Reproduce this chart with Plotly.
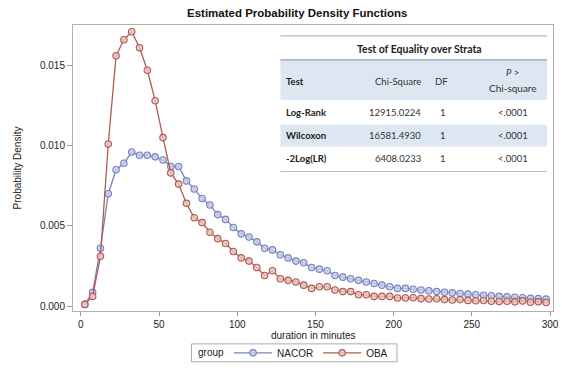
import plotly.graph_objects as go

# ---------------- data ----------------
minutes = [2.5 + 5 * i for i in range(60)]

nacor = [0.0001, 0.00085, 0.0036, 0.0070, 0.0085, 0.0089, 0.0096, 0.0094, 0.0094, 0.0093,
         0.0091, 0.0087, 0.0087, 0.0078, 0.0073, 0.0067, 0.0063, 0.0057, 0.0054, 0.0049,
         0.0045, 0.0043, 0.0040, 0.0036, 0.0035, 0.0032, 0.0030, 0.0028, 0.0027, 0.0024,
         0.0023, 0.0022, 0.0019, 0.0018, 0.0017, 0.0016, 0.0015, 0.0014, 0.0013, 0.0012,
         0.0011, 0.00110, 0.00105, 0.00100, 0.00095, 0.00090, 0.00086, 0.00082, 0.00078, 0.00074,
         0.00070, 0.00067, 0.00064, 0.00060, 0.00057, 0.00055, 0.00052, 0.00048, 0.00046, 0.00043]

oba = [0.0001, 0.0006, 0.0031, 0.0101, 0.0156, 0.0166, 0.0171, 0.0161, 0.0147, 0.0128,
       0.0105, 0.0083, 0.0076, 0.0064, 0.0055, 0.0052, 0.0046, 0.0042, 0.0039, 0.0034,
       0.0030, 0.0028, 0.0024, 0.0019, 0.0022, 0.0017, 0.0016, 0.0015, 0.0013, 0.0011,
       0.0012, 0.0012, 0.0010, 0.0009, 0.0009, 0.0007, 0.0007, 0.0006, 0.0006, 0.0006,
       0.0005, 0.00050, 0.00052, 0.00046, 0.00044, 0.00045, 0.00040, 0.00038, 0.00040, 0.00035,
       0.00033, 0.00034, 0.00030, 0.00028, 0.00030, 0.00026, 0.00032, 0.00024, 0.00026, 0.00022]

x_ticks = [0, 50, 100, 150, 200, 250, 300]
y_ticks = [0.0, 0.005, 0.010, 0.015]
y_tick_labels = ["0.000", "0.005", "0.010", "0.015"]

table_title = "Test of Equality over Strata"
tests = ["Log-Rank", "Wilcoxon", "-2Log(LR)"]
chi_square = ["12915.0224", "16581.4930", "6408.0233"]
dfs = ["1", "1", "1"]
pvals = ["<.0001", "<.0001", "<.0001"]

# ---------------- layout geometry (pixels) ----------------
W, H = 562, 370
L, R, T, B = 73, 559, 25, 312


def px(x):
    return (x - L) / (R - L)


def py(y):
    return (B - y) / (B - T)


blue = "#7682bf"
red = "#b25a51"

fig = go.Figure()
fig.add_trace(go.Scatter(
    x=minutes, y=nacor, name="NACOR", mode="lines+markers",
    line=dict(color=blue, width=1.3),
    marker=dict(symbol="circle", size=6.5, color="rgba(200,205,230,0.85)",
                line=dict(color=blue, width=1.1)),
))
fig.add_trace(go.Scatter(
    x=minutes, y=oba, name="OBA", mode="lines+markers",
    line=dict(color=red, width=1.3),
    marker=dict(symbol="circle", size=6.5, color="rgba(228,196,190,0.85)",
                line=dict(color=red, width=1.1)),
))

shapes = []
annotations = []

# table backgrounds
shapes.append(dict(type="rect", xref="paper", yref="paper", x0=px(283), x1=px(553),
                   y0=py(100), y1=py(60), fillcolor="#dce7f1", line=dict(width=0), layer="above"))
shapes.append(dict(type="rect", xref="paper", yref="paper", x0=px(283), x1=px(553),
                   y0=py(147), y1=py(125), fillcolor="#dce7f1", line=dict(width=0), layer="above"))
# table rules
for yy, col, w in [(36, "#a9bccd", 1.2), (60, "#8aa2b8", 1.2), (172, "#b5c3d0", 1.2)]:
    shapes.append(dict(type="line", xref="paper", yref="paper", x0=px(283), x1=px(553),
                       y0=py(yy), y1=py(yy), line=dict(color=col, width=w), layer="above"))

# legend frame
shapes.append(dict(type="rect", xref="paper", yref="paper", x0=px(193), x1=px(401),
                   y0=py(363), y1=py(345), line=dict(color="#aaa", width=1),
                   fillcolor="rgba(0,0,0,0)"))
annotations.append(dict(text="group", xref="paper", yref="paper", x=px(198), y=py(354),
                        showarrow=False, xanchor="left", yanchor="middle",
                        font=dict(family="Liberation Sans", size=10, color="#222")))

tfont = "Lato"
annotations.append(dict(text="<b>" + table_title + "</b>", xref="paper", yref="paper",
                        x=px(424), y=py(49), showarrow=False, xanchor="center", yanchor="middle",
                        font=dict(family=tfont, size=10.5, color="#222")))
annotations.append(dict(text="<b>Test</b>", xref="paper", yref="paper", x=px(287), y=py(82),
                        showarrow=False, xanchor="left", yanchor="middle",
                        font=dict(family=tfont, size=9.5, color="#222")))
annotations.append(dict(text="Chi-Square", xref="paper", yref="paper", x=px(427), y=py(82),
                        showarrow=False, xanchor="right", yanchor="middle",
                        font=dict(family=tfont, size=9.5, color="#333")))
annotations.append(dict(text="DF", xref="paper", yref="paper", x=px(446), y=py(82),
                        showarrow=False, xanchor="center", yanchor="middle",
                        font=dict(family=tfont, size=9.5, color="#333")))
annotations.append(dict(text="<i>P</i> >", xref="paper", yref="paper", x=px(518), y=py(73),
                        showarrow=False, xanchor="center", yanchor="middle",
                        font=dict(family=tfont, size=9.5, color="#333")))
annotations.append(dict(text="Chi-square", xref="paper", yref="paper", x=px(518), y=py(88),
                        showarrow=False, xanchor="center", yanchor="middle",
                        font=dict(family=tfont, size=10, color="#333")))
row_y = [113, 136, 159]
for i, ry in enumerate(row_y):
    annotations.append(dict(text="<b>" + tests[i] + "</b>", xref="paper", yref="paper",
                            x=px(287), y=py(ry), showarrow=False, xanchor="left", yanchor="middle",
                            font=dict(family=tfont, size=9.5, color="#222")))
    annotations.append(dict(text=chi_square[i], xref="paper", yref="paper",
                            x=px(427), y=py(ry), showarrow=False, xanchor="right", yanchor="middle",
                            font=dict(family=tfont, size=9.5, color="#333")))
    annotations.append(dict(text=dfs[i], xref="paper", yref="paper",
                            x=px(448), y=py(ry), showarrow=False, xanchor="center", yanchor="middle",
                            font=dict(family=tfont, size=9.5, color="#333")))
    annotations.append(dict(text=pvals[i], xref="paper", yref="paper",
                            x=px(518), y=py(ry), showarrow=False, xanchor="center", yanchor="middle",
                            font=dict(family=tfont, size=9.5, color="#333")))

# title
annotations.append(dict(text="<b>Estimated Probability Density Functions</b>", xref="paper",
                        yref="paper", x=px(300), y=py(13), showarrow=False, xanchor="center",
                        yanchor="middle", font=dict(family="Liberation Sans", size=11.5, color="#111")))
# x-axis title
annotations.append(dict(text="duration in minutes", xref="paper", yref="paper",
                        x=px(316), y=py(337), showarrow=False, xanchor="center",
                        yanchor="middle", font=dict(family="Liberation Sans", size=10, color="#222")))

fig.update_layout(
    width=W, height=H,
    margin=dict(l=L, r=W - R, t=T, b=H - B),
    paper_bgcolor="white", plot_bgcolor="white",
    font=dict(family="Liberation Sans", size=10, color="#222"),
    shapes=shapes, annotations=annotations,
    showlegend=True,
    legend=dict(orientation="h", x=px(231), y=py(354), xanchor="left", yanchor="middle",
                borderwidth=0, font=dict(size=10), itemwidth=38,
                bgcolor="rgba(0,0,0,0)", tracegroupgap=0),
    xaxis=dict(range=[-5.05, 301.9], tickvals=x_ticks, ticks="outside", ticklen=4,
               tickcolor="#999", showgrid=False, zeroline=False, showline=True, linecolor="#b0b0b0",
               mirror=True, linewidth=1, ticklabeloverflow="allow",
               tickfont=dict(size=10)),
    yaxis=dict(range=[-0.00031, 0.01752], tickvals=y_ticks, ticktext=y_tick_labels,
               ticks="outside", ticklen=5, tickcolor="#999", showgrid=False, zeroline=False,
               showline=True, linecolor="#b0b0b0", mirror=True, linewidth=1,
               title=dict(text="Probability Density", standoff=16, font=dict(size=10)),
               tickfont=dict(size=10)),
)

fig.write_html("out.html")
